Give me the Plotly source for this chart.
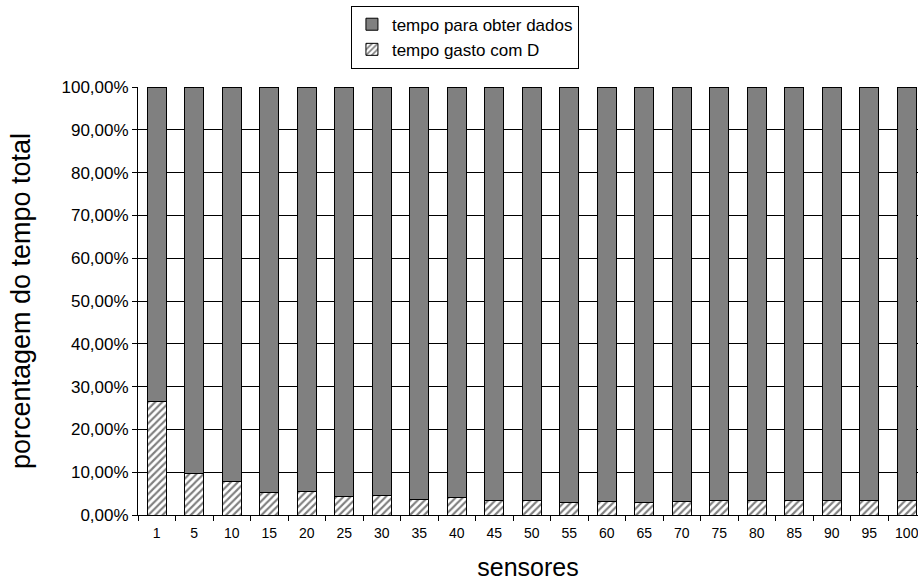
import plotly.graph_objects as go

sensores = ["1", "5", "10", "15", "20", "25", "30", "35", "40", "45", "50",
            "55", "60", "65", "70", "75", "80", "85", "90", "95", "100"]
# share of total time spent with D (fraction)
tempo_d = [0.266, 0.097, 0.078, 0.053, 0.054, 0.044, 0.045, 0.037, 0.040, 0.035, 0.033,
           0.030, 0.031, 0.030, 0.032, 0.034, 0.034, 0.034, 0.034, 0.034, 0.034]
# remaining share: time to obtain data
tempo_dados = [1 - v for v in tempo_d]

FONT = "Arial, Liberation Sans, Helvetica, sans-serif"

fig = go.Figure()
fig.add_trace(go.Bar(
    x=sensores, y=tempo_d, name="tempo gasto com D",
    marker=dict(color="white", line=dict(color="black", width=1),
                pattern=dict(shape="/", fgcolor="black", bgcolor="white",
                             size=5, solidity=0.42)),
    width=0.5,
))
fig.add_trace(go.Bar(
    x=sensores, y=tempo_dados, name="tempo para obter dados",
    marker=dict(color="#808080", line=dict(color="black", width=1)),
    width=0.5,
))

fig.update_layout(
    width=918, height=581,
    barmode="stack",
    separators=",.",
    plot_bgcolor="white", paper_bgcolor="white",
    margin=dict(l=138, r=0, t=87, b=66),
    font=dict(family=FONT, size=14, color="black"),
    showlegend=True,
    legend=dict(
        traceorder="reversed",
        x=0.273, y=1.19, xanchor="left", yanchor="top",
        bordercolor="black", borderwidth=1, bgcolor="white",
        font=dict(family=FONT, size=17, color="black"),
        itemwidth=30, tracegroupgap=0,
    ),
    xaxis=dict(
        type="category", range=[-0.5, 20.3],
        showline=True, linecolor="black", linewidth=1,
        ticks="outside", tickson="boundaries", ticklen=5, tickcolor="black",
        ticklabelstandoff=5,
        showgrid=False,
        title=dict(text="sensores", font=dict(family=FONT, size=25), standoff=19),
        tickfont=dict(family=FONT, size=14),
    ),
    yaxis=dict(
        range=[0, 1], tickformat=".2%", dtick=0.1,
        showline=True, linecolor="black", linewidth=1,
        ticks="outside", ticklen=5, tickcolor="black",
        showgrid=True, gridcolor="black", gridwidth=1,
        zeroline=False,
        title=dict(text="porcentagem do tempo total", font=dict(family=FONT, size=27), standoff=23),
        tickfont=dict(family=FONT, size=17),
    ),
)

fig.write_html("out.html")
